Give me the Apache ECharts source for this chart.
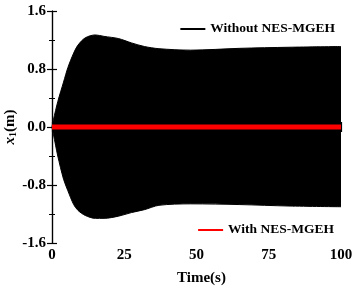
<!DOCTYPE html>
<html>
<head>
<meta charset="utf-8">
<script src="https://cdn.jsdelivr.net/npm/echarts@6/dist/echarts.min.js"></script>
<style>
  html, body { margin: 0; padding: 0; background: #fff; }
  #main { width: 355px; height: 289px; }
</style>
</head>
<body>
<div id="main"></div>
<script>
// 时间点 (s)
const timeList = [0, 0.5, 2, 4, 5.5, 7.5, 9, 11.5, 15, 18, 23, 27.5, 32, 37, 48, 65, 82, 100];
// 无 NES-MGEH 时振幅包络（上 / 下）
const withoutUpper = [0, 0.1, 0.35, 0.62, 0.82, 1.02, 1.13, 1.23, 1.27, 1.25, 1.22, 1.16, 1.11, 1.08, 1.06, 1.085, 1.10, 1.11];
const withoutLower = [0, -0.1, -0.4, -0.72, -0.88, -1.07, -1.15, -1.22, -1.26, -1.26, -1.23, -1.18, -1.14, -1.08, -1.06, -1.07, -1.09, -1.10];
// 有 NES-MGEH 时（几乎为零）
const withTime = [0, 100];
const withValues = [0, 0];

const xTicks = [0, 25, 50, 75, 100];
const yTicks = [-1.6, -0.8, 0, 0.8, 1.6];

const pair = (t, v) => t.map((item, i) => [item, v[i]]);

const font = 'Liberation Serif';
const chart = echarts.init(document.getElementById('main'));

const axisCommon = {
    axisLine: { show: true, lineStyle: { color: '#000', width: 1.2 } },
    axisTick: { show: true, inside: true, length: 5, lineStyle: { color: '#000', width: 1.2 } },
    minorTick: { show: true, splitNumber: 2, length: 3, lineStyle: { color: '#000', width: 1 } },
    splitLine: { show: false },
};

const option = {
    animation: false,
    backgroundColor: '#fff',
    grid: { left: 52, right: 14, top: 11, bottom: 46, containLabel: false, outerBoundsMode: 'none' },
    legend: [
        {
            data: ['Without NES-MGEH'],
            right: 15, top: 17,
            icon: 'rect', itemWidth: 25, itemHeight: 2, itemGap: 7,
            textStyle: { fontFamily: font, fontWeight: 'bold', fontSize: 13.5, color: '#000' }
        },
        {
            data: ['With NES-MGEH'],
            right: 16, top: 218,
            icon: 'rect', itemWidth: 25, itemHeight: 2, itemGap: 7,
            textStyle: { fontFamily: font, fontWeight: 'bold', fontSize: 13.5, color: '#000' }
        }
    ],
    xAxis: [
        Object.assign({}, axisCommon, {
            type: 'value', min: xTicks[0], max: xTicks[xTicks.length - 1], interval: 25,
            name: 'Time(s)', nameLocation: 'middle', nameGap: 28, nameMoveOverlap: false,
            nameTextStyle: { fontFamily: font, fontWeight: 'bold', fontSize: 15, color: '#000', padding: [0, 0, 0, 10] },
            axisLabel: { fontFamily: font, fontWeight: 'bold', fontSize: 15, color: '#000', margin: 5 }
        }),
        Object.assign({}, axisCommon, {
            type: 'value', position: 'top', min: 0, max: 100, interval: 25,
            axisLabel: { show: false }
        })
    ],
    yAxis: [
        Object.assign({}, axisCommon, {
            type: 'value', min: yTicks[0], max: yTicks[yTicks.length - 1], interval: 0.8,
            name: '{i|x}{s|1}{n|(m)}', nameLocation: 'middle', nameGap: 34, nameMoveOverlap: false,
            nameTextStyle: {
                rich: {
                    i: { fontFamily: font, fontStyle: 'italic', fontWeight: 'bold', fontSize: 15, color: '#000' },
                    s: { fontFamily: font, fontWeight: 'bold', fontSize: 10, color: '#000', verticalAlign: 'bottom', padding: [6, 0, 0, 0] },
                    n: { fontFamily: font, fontWeight: 'bold', fontSize: 15, color: '#000' }
                }
            },
            axisLabel: {
                fontFamily: font, fontWeight: 'bold', fontSize: 15, color: '#000', margin: 6,
                formatter: v => v.toFixed(1)
            }
        }),
        Object.assign({}, axisCommon, {
            type: 'value', position: 'right', min: -1.6, max: 1.6, interval: 0.8,
            axisLabel: { show: false }
        })
    ],
    series: [
        {
            name: 'Without NES-MGEH', type: 'line', color: '#000',
            data: pair(timeList, withoutUpper), smooth: 0.3, showSymbol: false,
            lineStyle: { color: '#000', width: 1 }, areaStyle: { color: '#000', opacity: 1 }, z: 2
        },
        {
            name: 'Without NES-MGEH', type: 'line', color: '#000',
            data: pair(timeList, withoutLower), smooth: 0.3, showSymbol: false,
            lineStyle: { color: '#000', width: 1 }, areaStyle: { color: '#000', opacity: 1 }, z: 2
        },
        {
            name: 'With NES-MGEH', type: 'line', color: '#ff0000',
            data: pair(withTime, withValues), showSymbol: false,
            lineStyle: { color: '#ff0000', width: 5 }, z: 3
        }
    ]
};

chart.setOption(option);
</script>
</body>
</html>
